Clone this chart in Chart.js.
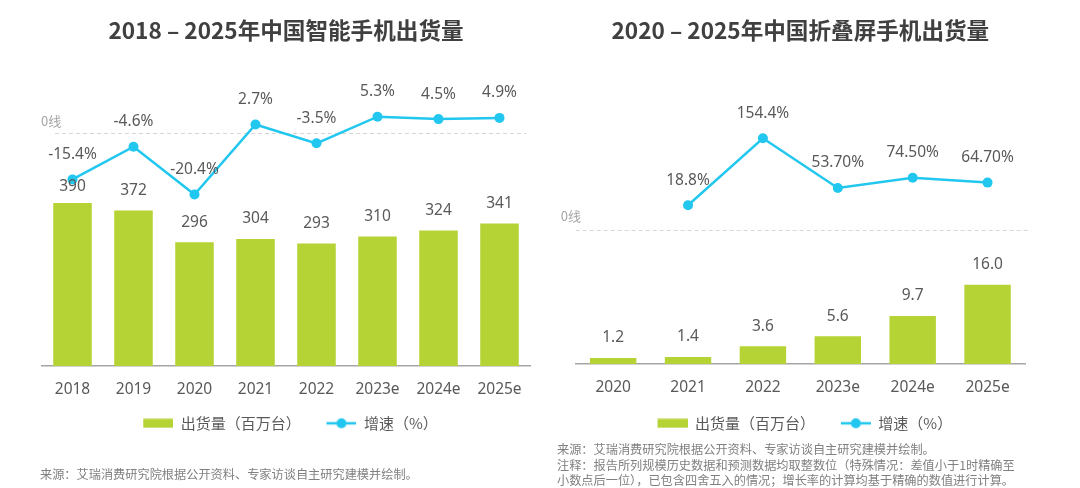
<!DOCTYPE html>
<html><head><meta charset="utf-8">
<script src="https://cdn.jsdelivr.net/npm/chart.js@4.4.0/dist/chart.umd.min.js"></script>
<style>
html,body{margin:0;padding:0;background:#fff;width:1080px;height:488px;overflow:hidden;}
#c1{position:absolute;left:0;top:0;}
#c2{position:absolute;left:540px;top:0;}
.note{position:absolute;font-family:'Noto Sans CJK SC',sans-serif;font-size:12.2px;line-height:15.3px;color:#808080;white-space:nowrap;}
</style></head><body>
<canvas id="c1" width="540" height="488"></canvas>
<canvas id="c2" width="540" height="488"></canvas>
<div class="note" style="left:40px;top:467.3px;">来源：艾瑞消费研究院根据公开资料、专家访谈自主研究建模并绘制。</div>
<div class="note" style="left:557px;top:442.3px;">来源：艾瑞消费研究院根据公开资料、专家访谈自主研究建模并绘制。<br>注释：报告所列规模历史数据和预测数据均取整数位（特殊情况：差值小于1时精确至<br>小数点后一位），已包含四舍五入的情况；增长率的计算均基于精确的数值进行计算。</div>
<script>
// ---- data ----
const smartYears = ['2018','2019','2020','2021','2022','2023e','2024e','2025e'];
const smartShipments = [390, 372, 296, 304, 293, 310, 324, 341];
const smartGrowth = [-15.4, -4.6, -20.4, 2.7, -3.5, 5.3, 4.5, 4.9];
const smartGrowthLabels = ['-15.4%','-4.6%','-20.4%','2.7%','-3.5%','5.3%','4.5%','4.9%'];

const foldYears = ['2020','2021','2022','2023e','2024e','2025e'];
const foldShipments = [1.2, 1.4, 3.6, 5.6, 9.7, 16.0];
const foldGrowth = [null, 18.8, 154.4, 53.7, 74.5, 64.7];
const foldGrowthLabels = ['', '18.8%', '154.4%', '53.70%', '74.50%', '64.70%'];

const barLegend = '出货量（百万台）';
const lineLegend = '增速（%）';
const smartTitle = '2018 – 2025年中国智能手机出货量';
const foldTitle = '2020 – 2025年中国折叠屏手机出货量';

// ---- style ----
const GREEN = '#b5d334';
const CYAN = '#22c7ef';
const FONT = "'Noto Sans', 'Noto Sans CJK SC', sans-serif";
Chart.defaults.font.family = FONT;

// legend icons: 9px transparent lead-in + 30px icon (extra gap between items)
function barIcon(){
  const c = document.createElement('canvas'); c.width = 39; c.height = 10;
  const x = c.getContext('2d'); x.fillStyle = GREEN; x.fillRect(9, 0.5, 30, 9);
  return c;
}
function lineIcon(){
  const c = document.createElement('canvas'); c.width = 39; c.height = 12;
  const x = c.getContext('2d');
  x.strokeStyle = CYAN; x.lineWidth = 2.5;
  x.beginPath(); x.moveTo(9, 6); x.lineTo(39, 6); x.stroke();
  x.fillStyle = CYAN; x.beginPath(); x.arc(24, 6, 5, 0, Math.PI * 2); x.fill();
  return c;
}
const ICONS = [barIcon(), lineIcon()];

const zeroLine = {
  id: 'zeroLine',
  beforeDatasetsDraw(chart, args, o){
    const ctx = chart.ctx, a = chart.chartArea;
    const y = Math.round(chart.scales.y1.getPixelForValue(o.value)) + 0.5;
    ctx.save();
    ctx.strokeStyle = '#d6d6d6'; ctx.lineWidth = 1; ctx.setLineDash([4, 3]);
    ctx.beginPath(); ctx.moveTo(a.left + o.startDx, y); ctx.lineTo(a.right + o.endDx, y); ctx.stroke();
    ctx.setLineDash([]);
    ctx.font = "13px 'Noto Sans CJK SC', sans-serif";
    ctx.fillStyle = '#a6a6a6'; ctx.textAlign = 'left'; ctx.textBaseline = 'middle';
    ctx.fillText('0线', a.left + o.labelDx, y - o.labelDy);
    ctx.restore();
  }
};

const valueLabels = {
  id: 'valueLabels',
  afterDatasetsDraw(chart, args, o){
    const ctx = chart.ctx;
    const lineMeta = chart.getDatasetMeta(1);
    ctx.save();
    ctx.font = "15.5px " + FONT;
    ctx.fillStyle = '#595959'; ctx.textAlign = 'center'; ctx.textBaseline = 'middle';
    chart.data.datasets.forEach((ds, i) => {
      const meta = chart.getDatasetMeta(i);
      const off = o.offsets[i], fmt = o.formatters[i];
      meta.data.forEach((el, j) => {
        if (ds.data[j] == null) return;
        let y = el.y - off;
        if (i === 0) {
          // nudge a bar label below a line point that would sit on it
          const p = lineMeta.data[j];
          if (p && chart.data.datasets[1].data[j] != null && Math.abs(p.y - y) < 10) y = p.y + 7;
        }
        ctx.fillText(fmt(ds.data[j], j), el.x, y);
      });
    });
    ctx.restore();
  }
};

function makeChart(id, cfg){
  return new Chart(document.getElementById(id), {
    type: 'bar',
    data: {
      labels: cfg.labels,
      datasets: [
        {type: 'bar', label: barLegend, data: cfg.bars, backgroundColor: GREEN, yAxisID: 'y', order: 2,
         barPercentage: cfg.barPct, categoryPercentage: 1},
        {type: 'line', label: lineLegend, data: cfg.rates, yAxisID: 'y1', order: 1,
         borderColor: CYAN, backgroundColor: CYAN, borderWidth: 2.5, pointRadius: 5, pointHoverRadius: 5,
         pointBorderWidth: 0, pointBackgroundColor: CYAN, tension: 0, spanGaps: false, clip: false}
      ]
    },
    options: {
      responsive: false, animation: false, devicePixelRatio: 1,
      layout: {padding: {left: cfg.padL, right: cfg.padR, top: 0, bottom: cfg.padB}},
      scales: {
        x: {grid: {display: false, drawTicks: false}, border: {display: true, color: '#a6a6a6', width: 1.5},
            ticks: {color: '#595959', font: {size: 15.5}, padding: 14},
            afterFit(s){ s.height = cfg.xH; }},
        y: {display: false, min: 0, max: cfg.yMax},
        y1: {display: false, min: cfg.y1Min, max: cfg.y1Max}
      },
      plugins: {
        title: {display: true, text: cfg.title, color: '#404040', fullSize: false,
                font: {size: 22.6, weight: 'bold', family: "'Noto Sans CJK SC', sans-serif"},
                padding: {top: 17, bottom: 15.9}},
        legend: {position: 'bottom', fullSize: false,
                 labels: {usePointStyle: true, pointStyleWidth: 39, padding: 16.8, color: '#595959',
                          font: {size: 15, family: "'Noto Sans CJK SC', sans-serif"},
                          sort: (a, b) => a.datasetIndex - b.datasetIndex,
                          generateLabels(chart){
                            const items = Chart.defaults.plugins.legend.labels.generateLabels(chart);
                            items.forEach(it => { it.pointStyle = ICONS[it.datasetIndex]; });
                            return items;
                          }}},
        tooltip: {enabled: false},
        zeroLine: cfg.zero,
        valueLabels: {offsets: [20, 25], formatters: cfg.formatters}
      }
    },
    plugins: [zeroLine, valueLabels]
  });
}

makeChart('c1', {
  labels: smartYears, bars: smartShipments, rates: smartGrowth, title: smartTitle,
  padL: 42, padR: 10, padB: 47.2, xH: 33, barPct: 0.632,
  yMax: 732, y1Min: -77.0, y1Max: 24.0,
  zero: {value: 0, startDx: 13, endDx: -4, labelDx: -1, labelDy: 12},
  formatters: [v => String(v), (v, j) => smartGrowthLabels[j]]
});

makeChart('c2', {
  labels: foldYears, bars: foldShipments, rates: foldGrowth, title: foldTitle,
  padL: 35.7, padR: 55, padB: 47.2, xH: 35, barPct: 0.62,
  yMax: 61.3, y1Min: -302.5, y1Max: 312.9,
  zero: {value: -30.8, startDx: 0, endDx: 6, labelDx: -15, labelDy: 14},
  formatters: [v => v.toFixed(1), (v, j) => foldGrowthLabels[j]]
});
</script>
</body></html>
